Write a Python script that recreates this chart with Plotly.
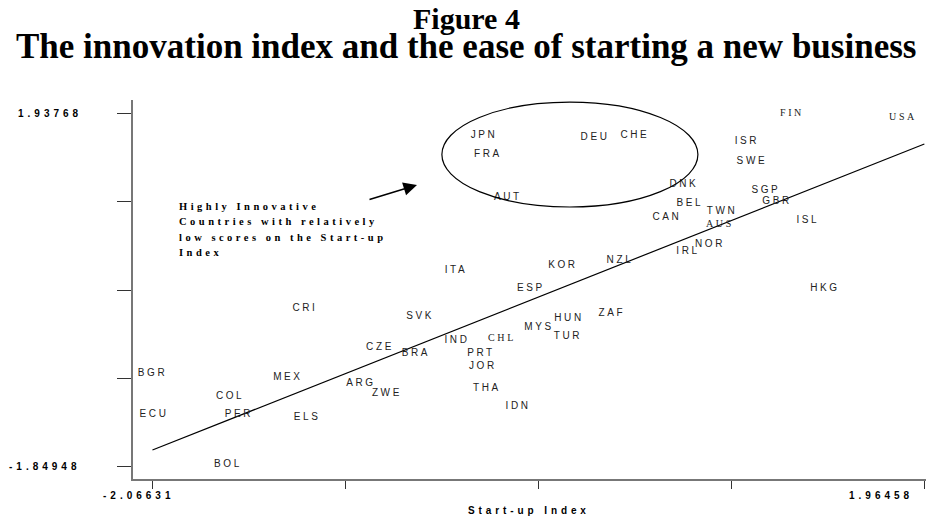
import plotly.graph_objects as go

# country codes and their position on the two indices
countries = ['FIN', 'USA', 'ISR', 'SWE', 'DNK', 'BEL', 'SGP', 'GBR', 'TWN', 'CAN',
             'AUS', 'ISL', 'NOR', 'IRL', 'HKG', 'JPN', 'FRA', 'DEU', 'CHE', 'AUT',
             'CRI', 'SVK', 'CZE', 'BRA', 'BGR', 'MEX', 'ARG', 'ZWE', 'COL', 'ECU',
             'PER', 'ELS', 'BOL', 'ITA', 'KOR', 'NZL', 'ESP', 'ZAF', 'HUN', 'MYS',
             'TUR', 'IND', 'CHL', 'PRT', 'JOR', 'THA', 'IDN']
startup_index = [1.273, 1.853, 1.038, 1.064, 0.709, 0.740, 1.137, 1.195, 0.908, 0.620,
                 0.897, 1.356, 0.845, 0.730, 1.445, -0.335, -0.315, 0.245, 0.453, -0.210,
                 -1.270, -0.669, -0.878, -0.691, -2.066, -1.359, -0.978, -0.842, -1.661, -2.058,
                 -1.615, -1.259, -1.672, -0.481, 0.077, 0.375, -0.090, 0.333, 0.109, -0.048,
                 0.103, -0.476, -0.241, -0.351, -0.341, -0.320, -0.157]
innovation_index = [1.937, 1.895, 1.638, 1.424, 1.178, 0.975, 1.114, 0.986, 0.879, 0.815,
                    0.750, 0.783, 0.526, 0.451, 0.055, 1.692, 1.499, 1.681, 1.692, 1.039,
                    -0.159, -0.234, -0.576, -0.630, -0.854, -0.897, -0.951, -1.068, -1.100, -1.293,
                    -1.293, -1.325, -1.820, 0.258, 0.301, 0.355, 0.055, -0.202, -0.266, -0.362,
                    -0.458, -0.491, -0.480, -0.640, -0.769, -1.015, -1.197]

# fitted line, end points
trend_x = [-2.06631, 1.96458]
trend_y = [-1.668, 1.606]

# axis ticks (only the end ones carry a label)
x_ticks = [-2.06631, -1.05859, -0.05087, 0.95686, 1.96458]
y_ticks = [-1.84948, -0.90269, 0.04410, 0.99089, 1.93768]
x_tick_labels = ['-2.06631', '1.96458']
y_tick_labels = ['1.93768', '-1.84948']

note_lines = ['Highly Innovative', 'Countries with relatively',
              'low scores on the Start-up', 'Index']

serif_codes = {'FIN', 'USA', 'CHL', 'AUS'}

SANS = 'Liberation Sans, Arial, sans-serif'
SERIF = 'Liberation Serif, Times New Roman, serif'


def spaced(s, px):
    return f'<span style="letter-spacing:{px}px">{s}</span>'


fig = go.Figure()

fig.add_trace(go.Scatter(
    x=trend_x, y=trend_y, mode='lines',
    line=dict(color='black', width=1.2),
    hoverinfo='skip', showlegend=False,
))

sans_idx = [i for i, c in enumerate(countries) if c not in serif_codes]
serif_idx = [i for i, c in enumerate(countries) if c in serif_codes]

for idx, fam in [(sans_idx, SANS), (serif_idx, SERIF)]:
    fig.add_trace(go.Scatter(
        x=[startup_index[i] for i in idx],
        y=[innovation_index[i] for i in idx],
        text=[spaced(countries[i], 2.6) for i in idx],
        mode='text',
        textposition='middle center',
        textfont=dict(family=fam, size=10, color='#222'),
        hovertext=[countries[i] for i in idx],
        showlegend=False,
    ))

# ellipse round the highly innovative group
fig.add_shape(type='circle', xref='x', yref='y',
              x0=-0.555, x1=0.782, y0=0.932, y1=2.055,
              line=dict(color='black', width=1.2))

annotations = [
    dict(x=-0.685, y=1.168, xref='x', yref='y', ax=-49, ay=15,
         showarrow=True, arrowhead=2, arrowsize=1.8, arrowwidth=1.5,
         arrowcolor='black', text=''),
]

# note, one annotation per line to get the wide line spacing
for k, line in enumerate(note_lines):
    annotations.append(dict(
        x=-1.938, y=(479 - 206 - 15.5 * k) / 379, xref='x', yref='paper',
        xanchor='left', yanchor='middle', showarrow=False,
        text=spaced(f'<b>{line}</b>', 3.5),
        font=dict(family=SERIF, size=10.5, color='black'),
    ))

# titles
annotations.append(dict(
    x=0.419, y=1.215, xref='paper', yref='paper', xanchor='center', yanchor='middle',
    text='<b>Figure 4</b>', showarrow=False,
    font=dict(family=SERIF, size=30, color='black'),
))
annotations.append(dict(
    x=0.418, y=1.141, xref='paper', yref='paper', xanchor='center', yanchor='middle',
    text='<b>The innovation index and the ease of starting a new business</b>',
    showarrow=False, font=dict(family=SERIF, size=35, color='black'),
))

# tick labels at the axis ends
tick_font = dict(family=SANS, size=10, color='black')
annotations.append(dict(x=x_ticks[0], y=0, xref='x', yref='paper', yanchor='top',
                        yshift=-9, xshift=-14, showarrow=False,
                        text=spaced(f'<b>{x_tick_labels[0]}</b>', 4), font=tick_font))
annotations.append(dict(x=x_ticks[-1], y=0, xref='x', yref='paper', yanchor='top',
                        yshift=-9, xshift=-43, showarrow=False,
                        text=spaced(f'<b>{x_tick_labels[1]}</b>', 4), font=tick_font))
annotations.append(dict(x=0, y=y_ticks[-1], xref='paper', yref='y', xanchor='right',
                        xshift=-49, showarrow=False,
                        text=spaced(f'<b>{y_tick_labels[0]}</b>', 4), font=tick_font))
annotations.append(dict(x=0, y=y_ticks[0], xref='paper', yref='y', xanchor='right',
                        xshift=-51, showarrow=False,
                        text=spaced(f'<b>{y_tick_labels[1]}</b>', 4), font=tick_font))

# axis titles
annotations.append(dict(x=0.497, y=0, xref='paper', yref='paper', yanchor='top',
                        yshift=-24, showarrow=False,
                        text=spaced('<b>Start-up Index</b>', 3.9), font=tick_font))
annotations.append(dict(x=0, y=0.485, xref='paper', yref='paper', xanchor='center',
                        xshift=-132, textangle=-90, showarrow=False,
                        text=spaced('<b>Innovation Index</b>', 3.2),
                        font=dict(family=SANS, size=9.5, color='#333')))

# page body keeps an 8px margin, so the figure is 8px smaller on each side
fig.update_layout(
    width=926, height=510,
    margin=dict(l=125, r=4, t=92, b=39),
    plot_bgcolor='white', paper_bgcolor='white',
    showlegend=False,
    annotations=annotations,
    xaxis=dict(range=[-2.168, 1.994], tickvals=x_ticks, showticklabels=False,
               ticks='outside', ticklen=8, tickcolor='#333', tickwidth=1,
               showline=True, linecolor='#777', linewidth=1.5,
               showgrid=False, zeroline=False),
    yaxis=dict(range=[-1.978, 2.077], tickvals=y_ticks, showticklabels=False,
               ticks='outside', ticklen=14, tickcolor='#333', tickwidth=1,
               showline=True, linecolor='#777', linewidth=1.5,
               showgrid=False, zeroline=False),
)

fig.write_html("out.html")
